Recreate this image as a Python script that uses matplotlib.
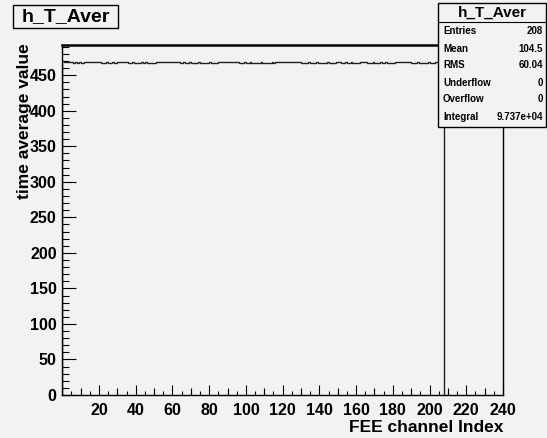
import numpy as np
import matplotlib
matplotlib.use("Agg")
import matplotlib.pyplot as plt
from matplotlib.patches import Rectangle
from matplotlib.lines import Line2D
from matplotlib.ticker import MultipleLocator

# ==========================================================
# data: time average value per FEE channel (208 bins)
# ==========================================================

values = [
    # 0-20
    469.5, 469, 469, 469, 469, 469,
    467.5, 468, 467, 468.5, 467, 467.5,
    469, 469, 469, 469, 469, 469, 469, 469, 469,
    # 21-50
    467, 467.5, 467, 468.5, 467, 467, 468, 467, 467.5,
    469, 469, 469, 469, 469,
    468, 467, 467, 468.5, 467, 467, 467.5, 467, 468, 467, 468.5, 467, 467, 467.5, 467, 467,
    # 51-95
    469, 469, 469, 469, 469, 469, 469, 469, 469, 469, 469, 469, 469,
    467.5, 467, 468, 467, 467, 468.5, 467, 467, 467.5, 467, 468, 467, 467, 467, 467.5,
    467, 468, 467, 467, 467, 467.5,
    469, 469, 469, 469, 469, 469, 469, 469, 469, 469, 469,
    # 96-128
    467.5, 467, 467, 468, 467, 467, 468.5, 467, 467, 467.5, 467, 467, 468, 467, 467,
    467.5, 467, 467, 468, 467,
    469, 469, 469, 469, 469, 469, 469, 469, 469, 469, 469, 469, 469,
    # 129-165
    468, 467, 467, 467.5, 467, 468.5, 467, 467, 467, 468, 467, 467, 467.5, 467, 467,
    468, 467, 467, 467, 467.5,
    469, 469, 469,
    467.5, 467, 468, 467, 467, 468.5, 467, 467, 467.5, 467,
    469, 469, 469, 469,
    # 166-207
    467.5, 467, 467, 468, 467, 467, 467.5, 468.5, 467, 467, 468, 467, 467, 467.5, 467,
    469, 469, 469, 469, 469, 469, 469, 469, 469,
    467.5, 467, 467, 468, 467, 467, 467.5, 467, 467, 468, 467, 467, 467.5,
    469, 469, 469, 469, 469,
]

hist_name = "h_T_Aver"
stat_labels = ["Entries", "Mean", "RMS", "Underflow", "Overflow", "Integral"]
stat_values = ["208", "104.5", "60.04", "0", "0", "9.737e+04"]

x_ticks = [20, 40, 60, 80, 100, 120, 140, 160, 180, 200, 220, 240]
y_ticks = [0, 50, 100, 150, 200, 250, 300, 350, 400, 450]

W, H = 547, 438
bg = "#f2f2f2"
font = ["Liberation Sans", "DejaVu Sans"]

plt.rcParams["font.family"] = font
plt.rcParams["font.weight"] = "bold"

fig = plt.figure(figsize=(W / 100, H / 100), dpi=100, facecolor=bg)


def fx(px):
    return px / W


def fy(py):
    return 1 - py / H


ax = fig.add_axes([fx(62.3), fy(395), fx(503) - fx(62.3), fy(45) - fy(395)])
ax.set_facecolor(bg)

edges = np.arange(len(values) + 1)
ax.stairs(values, edges, baseline=0, color="#202020", linewidth=1.0)

ax.set_xlim(0, 240)
ax.set_ylim(0, 492.5)

ax.set_xticks(x_ticks)
ax.set_yticks(y_ticks)
ax.xaxis.set_minor_locator(MultipleLocator(5))
ax.yaxis.set_minor_locator(MultipleLocator(10))
ax.tick_params(axis="x", which="major", direction="in", length=7.5, width=0.8,
               labelsize=11.5, pad=6)
ax.tick_params(axis="x", which="minor", direction="in", length=3, width=0.8)
ax.tick_params(axis="y", which="major", direction="in", length=10, width=0.8,
               labelsize=11.5, pad=4)
ax.tick_params(axis="y", which="minor", direction="in", length=5, width=0.8)
for lab in ax.get_xticklabels() + ax.get_yticklabels():
    lab.set_fontweight("bold")

# medium ticks every 10 on x
sec = ax.secondary_xaxis("bottom")
sec.set_xticks([t for t in range(10, 240, 20)])
sec.tick_params(direction="in", length=5, width=0.8, labelbottom=False)
sec.spines["bottom"].set_visible(False)

for side in ["left", "bottom", "right"]:
    ax.spines[side].set_linewidth(1.0)
ax.spines["top"].set_linewidth(1.8)

# axis titles
fig.text(fx(503), fy(427), "FEE channel Index", ha="right", va="center",
         fontsize=12.5, fontweight="bold")
fig.text(fx(25), fy(43), "time average value", rotation=90, ha="center", va="top",
         fontsize=12.5, fontweight="bold")

# title box
fig.add_artist(Rectangle((fx(13), fy(28)), fx(118) - fx(13), fy(5) - fy(28),
                         transform=fig.transFigure, facecolor=bg, edgecolor="black",
                         linewidth=1.0))
fig.text(fx(65.5), fy(16.5), hist_name, ha="center", va="center",
         fontsize=14, fontweight="bold")

# stats box
fig.add_artist(Rectangle((fx(438), fy(127)), fx(546) - fx(438), fy(3) - fy(127),
                         transform=fig.transFigure, facecolor=bg, edgecolor="black",
                         linewidth=1.0, zorder=5))
fig.add_artist(Line2D([fx(438), fx(546)], [fy(21.5), fy(21.5)],
                      transform=fig.transFigure, color="black", linewidth=0.8, zorder=6))
fig.text(fx(492), fy(17), hist_name, ha="center", va="baseline",
         fontsize=11, fontweight="bold", zorder=7)
for i, (lab, val) in enumerate(zip(stat_labels, stat_values)):
    yy = fy(34.5 + 17 * i)
    fig.text(fx(443), yy, lab, ha="left", va="baseline", fontsize=7,
             fontweight="bold", zorder=7)
    fig.text(fx(543), yy, val, ha="right", va="baseline", fontsize=7,
             fontweight="bold", zorder=7)

fig.savefig("out.png", dpi=100, facecolor=bg)
